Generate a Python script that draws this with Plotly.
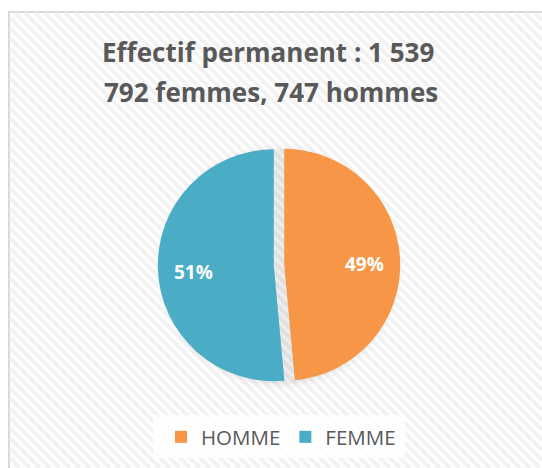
import math
import plotly.graph_objects as go

labels = ["HOMME", "FEMME"]
values = [747, 792]
colors = ["#F79646", "#4BACC6"]
title_line1 = "Effectif permanent : 1 539"
title_line2 = "792 femmes, 747 hommes"

W, H = 542, 468

def px(x):
    return x / W

def py(y):
    return 1 - y / H

shapes = []
# outer panel
shapes.append(dict(type="rect", xref="paper", yref="paper", x0=px(9), x1=px(560), y0=py(12), y1=py(490),
                   line=dict(color="#d9d9d9", width=2), fillcolor="#ffffff", layer="below"))
# diagonal stripes clipped to panel
L, T, R, B = 10, 13, 542, 468
step = 10
k = L - (B - T)
while k < R:
    x0, y0 = k, T
    if x0 < L:
        y0 = T + (L - x0)
        x0 = L
    x1, y1 = k + (B - T), B
    if x1 > R:
        y1 = B - (x1 - R)
        x1 = R
    if y0 < y1:
        shapes.append(dict(type="line", xref="paper", yref="paper", x0=px(x0), y0=py(y0), x1=px(x1), y1=py(y1),
                           line=dict(color="#f2f2f2", width=4), layer="below"))
    k += step

cx, cy, r = 279, 265, 115
# soft shadow
for d, a in [(7, 0.015), (4, 0.025), (2, 0.03)]:
    shapes.append(dict(type="circle", xref="paper", yref="paper", x0=px(cx - r - d), x1=px(cx + r + d),
                       y0=py(cy + r + d + 2), y1=py(cy - r - d + 2), line=dict(width=0),
                       fillcolor=f"rgba(0,0,0,{a})", layer="below"))
# legend box
shapes.append(dict(type="rect", xref="paper", yref="paper", x0=px(153), x1=px(405), y0=py(458), y1=py(415),
                   line=dict(width=0), fillcolor="rgba(255,255,255,0.85)", layer="below"))

pull = 0.045
half = (r * (1 + pull)) + 1
fig = go.Figure(go.Pie(
    labels=labels, values=values, sort=False, direction="clockwise", rotation=0,
    marker=dict(colors=colors, line=dict(width=0)),
    pull=[pull, pull],
    textinfo="none",
    domain=dict(x=[px(cx - half), px(cx + half)], y=[py(cy + half), py(cy - half)]),
    hoverinfo="label+value+percent",
))

annotations = [
    dict(text=f"<b>{title_line1}</b>", x=px(268), y=py(52), xref="paper", yref="paper",
         showarrow=False, font=dict(family="Open Sans", size=26, color="#595959"), xanchor="center", yanchor="middle"),
    dict(text=f"<b>{title_line2}</b>", x=px(271), y=py(92), xref="paper", yref="paper", showarrow=False,
         font=dict(family="Open Sans", size=26, color="#595959"), xanchor="center", yanchor="middle"),
]

# percentage labels placed along each slice's mid-angle
total = sum(values)
start = 0.0
for v in values:
    frac = v / total
    mid = (start + frac / 2) * 2 * math.pi
    rr = r * 0.70 + r * pull
    lx = cx + rr * math.sin(mid)
    ly = cy - rr * math.cos(mid)
    annotations.append(dict(text=f"<b>{round(frac * 100)}%</b>", x=px(lx), y=py(ly + 3), xref="paper", yref="paper",
                            showarrow=False, font=dict(family="Open Sans", size=19, color="white"),
                            xanchor="center", yanchor="middle"))
    start += frac

fig.update_layout(
    width=W, height=H, margin=dict(l=0, r=0, t=0, b=0),
    paper_bgcolor="white", plot_bgcolor="white",
    shapes=shapes, annotations=annotations,
    showlegend=True,
    legend=dict(orientation="h", x=px(281), xanchor="center", y=py(437), yanchor="middle",
                font=dict(family="Open Sans", size=20.5, color="#595959"), bgcolor="rgba(0,0,0,0)",
                itemclick=False, itemdoubleclick=False),
)

fig.write_html("out.html", config={"displayModeBar": False},
               post_script="document.body.style.margin='0';document.body.style.overflow='hidden';")
